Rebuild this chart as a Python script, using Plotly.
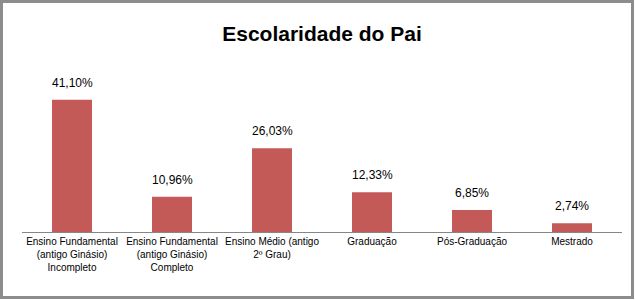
import plotly.graph_objects as go

categories = [
    "Ensino Fundamental<br>(antigo Ginásio)<br>Incompleto",
    "Ensino Fundamental<br>(antigo Ginásio)<br>Completo",
    "Ensino Médio (antigo<br>2º Grau)",
    "Graduação",
    "Pós-Graduação",
    "Mestrado",
]
values = [41.10, 10.96, 26.03, 12.33, 6.85, 2.74]
labels = [f"{v:.2f}".replace(".", ",") + "%" for v in values]

W, H = 635, 300
L, R, T, B = 22, 13, 80, 68
pw, ph = W - L - R, H - T - B
ymax = ph / 3.22

fig = go.Figure(
    go.Bar(
        x=categories,
        y=values,
        width=0.4,
        marker=dict(color="#C45A58", line=dict(width=0)),
        hoverinfo="skip",
    )
)

for c, v, t in zip(categories, values, labels):
    fig.add_annotation(
        x=c, y=v, text=t, showarrow=False, yanchor="bottom", yshift=8,
        font=dict(family="Liberation Sans, Arial, sans-serif", size=12, color="#000000"),
    )

def px_x(p):
    return (p - L) / pw

def px_y(p):
    return 1 - (p - T) / ph

fig.add_shape(
    type="rect", xref="paper", yref="paper",
    x0=px_x(1.5), x1=px_x(632.5), y0=px_y(297.5), y1=px_y(1.5),
    line=dict(color="#8C8C8C", width=3), fillcolor="rgba(0,0,0,0)",
)

fig.update_layout(
    width=W, height=H,
    margin=dict(l=L, r=R, t=T, b=B, pad=0),
    paper_bgcolor="white", plot_bgcolor="white",
    showlegend=False,
    title=dict(
        text="<b>Escolaridade do Pai</b>",
        x=0.5, xref="paper", xanchor="center",
        y=1 - 34 / H, yref="container", yanchor="middle",
        font=dict(family="Liberation Sans, Arial, sans-serif", size=21, color="#000000"),
    ),
    xaxis=dict(
        showline=True, linecolor="#868686", linewidth=1,
        showgrid=False, ticks="", zeroline=False,
        tickfont=dict(family="Liberation Sans, Arial, sans-serif", size=10, color="#000000"),
        tickangle=0, fixedrange=True,
    ),
    yaxis=dict(
        range=[0, ymax], visible=False, showgrid=False, zeroline=False, fixedrange=True,
    ),
)

fig.write_html("out.html", config={"displayModeBar": False})
